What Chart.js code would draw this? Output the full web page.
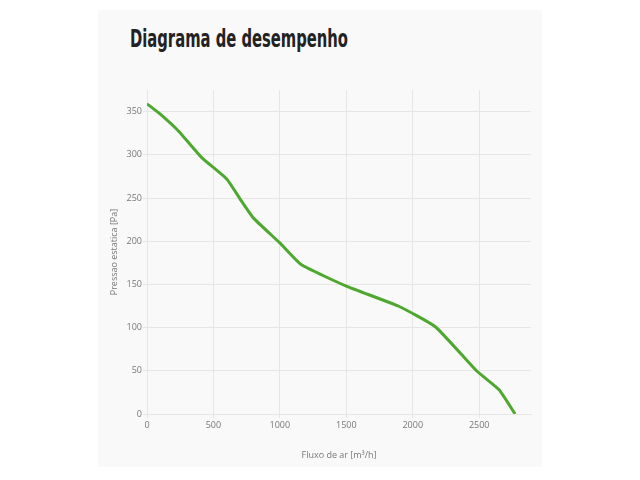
<!DOCTYPE html>
<html>
<head>
<meta charset="utf-8">
<script src="https://cdn.jsdelivr.net/npm/chart.js@4"></script>
<style>
body{margin:0;background:#fff;width:640px;height:480px;overflow:hidden;}
#painel{position:absolute;left:98px;top:10px;width:444px;height:457px;background:#f9f9f9;}
#titulo{position:absolute;left:32px;top:14px;margin:0;font-family:"Liberation Sans Narrow","DejaVu Sans Condensed",sans-serif;font-weight:bold;font-size:25px;color:#222;white-space:nowrap;transform-origin:left top;}
#caixa{position:absolute;left:0;top:70px;width:444px;height:387px;}
</style>
</head>
<body>
<div id="painel">
<h1 id="titulo">Diagrama de desempenho</h1>
<div id="caixa"><canvas id="grafico"></canvas></div>
</div>
<script>
// fluxo de ar [m³/h] e pressao estatica [Pa]
const fluxo = [0, 100, 240, 410, 600, 700, 800, 1000, 1160, 1500, 1890, 2170, 2480, 2650, 2770];
const pressao = [359, 347, 327, 297, 272, 249, 227, 198, 173, 148, 125, 101, 50, 28, 0];
const ticksX = [0, 500, 1000, 1500, 2000, 2500];
const ticksY = [0, 50, 100, 150, 200, 250, 300, 350];
const tituloX = "Fluxo de ar [m³/h]";
const tituloY = "Pressao estatica [Pa]";

const cinza = "#e6e6e6";
const texto = "#777";
const fonte = {family:"'Open Sans', sans-serif", size:9};

new Chart(document.getElementById("grafico"),{
type:"line",
data:{
datasets:[{
data:fluxo.map((x,i)=>({x:x,y:pressao[i]})),
borderColor:"#4ea82f",
borderWidth:3,
pointRadius:0,
tension:0.15,
fill:false
}]
},
options:{
responsive:true,
maintainAspectRatio:false,
animation:false,
layout:{padding:{top:10,right:11,left:0,bottom:0}},
plugins:{legend:{display:false},tooltip:{enabled:false}},
scales:{
x:{
type:"linear",
min:0,max:2890,
afterBuildTicks:s=>{s.ticks=ticksX.map(v=>({value:v}));},
ticks:{color:texto,font:fonte,padding:2,maxRotation:0,autoSkip:false,callback:v=>String(v)},
grid:{color:cinza,tickLength:4},
border:{color:cinza},
title:{display:true,text:tituloX,color:texto,font:fonte,padding:{top:4,bottom:6}},
afterFit:s=>{s.height=53;}
},
y:{
min:0,max:375,
afterBuildTicks:s=>{s.ticks=ticksY.map(v=>({value:v}));},
ticks:{color:texto,font:fonte,padding:1,autoSkip:false,callback:v=>String(v)},
grid:{color:cinza,tickLength:4},
border:{color:cinza},
title:{display:true,text:tituloY,color:texto,font:fonte,padding:{top:11,bottom:4}},
afterFit:s=>{s.width=49;}
}
}
}
});

// ajusta largura do titulo
const t=document.getElementById("titulo");
const w=t.getBoundingClientRect().width;
t.style.transform="scaleX("+(218/w)+")";
</script>
</body>
</html>
